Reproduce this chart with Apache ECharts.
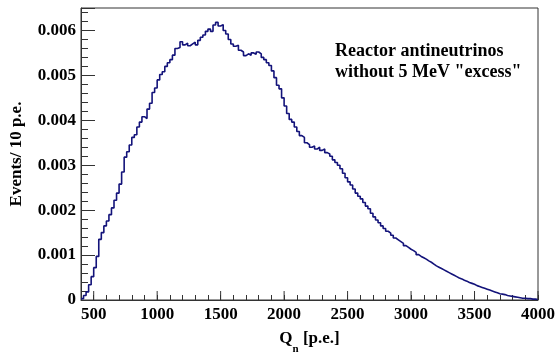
<!DOCTYPE html>
<html><head><meta charset="utf-8">
<script src="https://cdn.jsdelivr.net/npm/echarts@6/dist/echarts.min.js"></script>
<style>html,body{margin:0;padding:0;background:#fff}#c{width:558px;height:360px}</style>
</head><body><div id="c"></div>
<script>
// Histogram bins: lower edges from 400 p.e., 20 p.e. wide
const binStart = 400;
const binWidth = 20;
const counts = [
0.00003,0.00010,0.00018,0.00034,0.00052,0.00072,0.00097,0.00135,0.00150,0.00165,
0.00176,0.00190,0.00205,0.00222,0.00238,0.00258,0.00285,0.00318,0.00330,0.00345,
0.00362,0.00368,0.00385,0.00396,0.00408,0.00404,0.00425,0.00438,0.00462,0.00472,
0.00490,0.00502,0.00508,0.00520,0.00528,0.00535,0.00545,0.00560,0.00562,0.00575,
0.00568,0.00572,0.00566,0.00570,0.00574,0.00568,0.00578,0.00585,0.00590,0.00598,
0.00603,0.00598,0.00612,0.00618,0.00610,0.00613,0.00600,0.00592,0.00580,0.00570,
0.00565,0.00567,0.00556,0.00552,0.00544,0.00548,0.00545,0.00550,0.00547,0.00552,
0.00548,0.00540,0.00535,0.00528,0.00522,0.00510,0.00495,0.00478,0.00470,0.00450,
0.00432,0.00415,0.00402,0.00396,0.00385,0.00375,0.00366,0.00362,0.00350,0.00346,
0.00340,0.00343,0.00336,0.00340,0.00333,0.00336,0.00328,0.00325,0.00320,0.00312,
0.00306,0.00300,0.00292,0.00282,0.00272,0.00263,0.00256,0.00247,0.00238,0.00231,
0.00225,0.00217,0.00209,0.00203,0.00193,0.00185,0.00178,0.00172,0.00165,0.00159,
0.00153,0.00149,0.00144,0.00138,0.00134,0.00130,0.00126,0.00121,0.00117,0.00113,
0.00110,0.00106,0.00101,0.00097,0.00094,0.00091,0.00087,0.00084,0.00080,0.00076,
0.00073,0.00070,0.00067,0.00064,0.00061,0.00058,0.00055,0.00052,0.00049,0.00047,
0.00044,0.00042,0.00039,0.00037,0.00035,0.00032,0.00030,0.00028,0.00026,0.00024,
0.00022,0.00020,0.00018,0.00016,0.00014,0.00013,0.00012,0.00010,0.00009,0.00008,
0.00007,0.00006,0.00005,0.00004,0.00004,0.00003,0.00003,0.00002,0.00002,0.00001
];
const xMajorTicks = [500,1000,1500,2000,2500,3000,3500,4000];
const yTickLabels = ['0','0.001','0.002','0.003','0.004','0.005','0.006'];
const annotation = ['Reactor antineutrinos','without 5 MeV "excess"'];

const histData = counts.map((v,i)=>[binStart + i*binWidth, v]);
histData.push([binStart + counts.length*binWidth, counts[counts.length-1]]);

const font = '"Liberation Serif", "Times New Roman", serif';
const chart = echarts.init(document.getElementById('c'), null, {renderer:'canvas'});
chart.setOption({
  animation:false,
  grid:{left:81,right:15,top:8,bottom:48,show:true,borderColor:'#333',borderWidth:1,backgroundColor:'transparent'},
  xAxis:{
    type:'value',min:400,max:4000,interval:100,
    axisLine:{lineStyle:{color:'#333',width:1}},
    axisTick:{inside:true,length:5,lineStyle:{color:'#333'}},
    splitLine:{show:false},
    axisLabel:{color:'#000',fontFamily:font,fontWeight:'bold',fontSize:17,margin:6,
      formatter:v=> xMajorTicks.includes(v)?String(v):''},
    name:'{q|Q}{s|n}{q| [p.e.]}',nameLocation:'middle',nameGap:30,
    nameTextStyle:{rich:{q:{fontFamily:font,fontWeight:'bold',fontSize:17,color:'#000'},
      s:{fontFamily:font,fontWeight:'bold',fontSize:11,color:'#000',verticalAlign:'bottom',padding:[0,0,-8,0]}}}
  },
  yAxis:{
    type:'value',min:0,max:0.0065,interval:0.001,
    axisLine:{show:true,lineStyle:{color:'#333',width:1}},
    axisTick:{inside:true,length:14,lineStyle:{color:'#333'}},
    minorTick:{show:true,splitNumber:5,length:7,lineStyle:{color:'#333'}},
    splitLine:{show:false},
    axisLabel:{color:'#000',fontFamily:font,fontWeight:'bold',fontSize:17,margin:5,
      formatter:v=>{const i=Math.round(v/0.001); return Math.abs(v-i*0.001)<1e-9 && i<yTickLabels.length ? yTickLabels[i] : '';}},
    name:'Events/ 10 p.e.',nameLocation:'middle',nameGap:56,
    nameTextStyle:{fontFamily:font,fontWeight:'bold',fontSize:17,color:'#000'}
  },
  graphic:[{type:'text',left:335,top:41,style:{text:annotation.join('\n'),font:'bold 18px '+font,fill:'#000',lineHeight:21}}],
  series:[
    {type:'line',data:histData,step:'end',symbol:'none',lineStyle:{color:'#13137a',width:1.6},z:3},
    {type:'custom',coordinateSystem:'cartesian2d',data:xMajorTicks.map(v=>[v,0]),silent:true,z:4,
      renderItem:(params,api)=>{const p=api.coord([api.value(0),0]);
        return {type:'line',shape:{x1:p[0],y1:p[1],x2:p[0],y2:p[1]-9},style:{stroke:'#333',lineWidth:1}};}}
  ]
});
</script></body></html>
